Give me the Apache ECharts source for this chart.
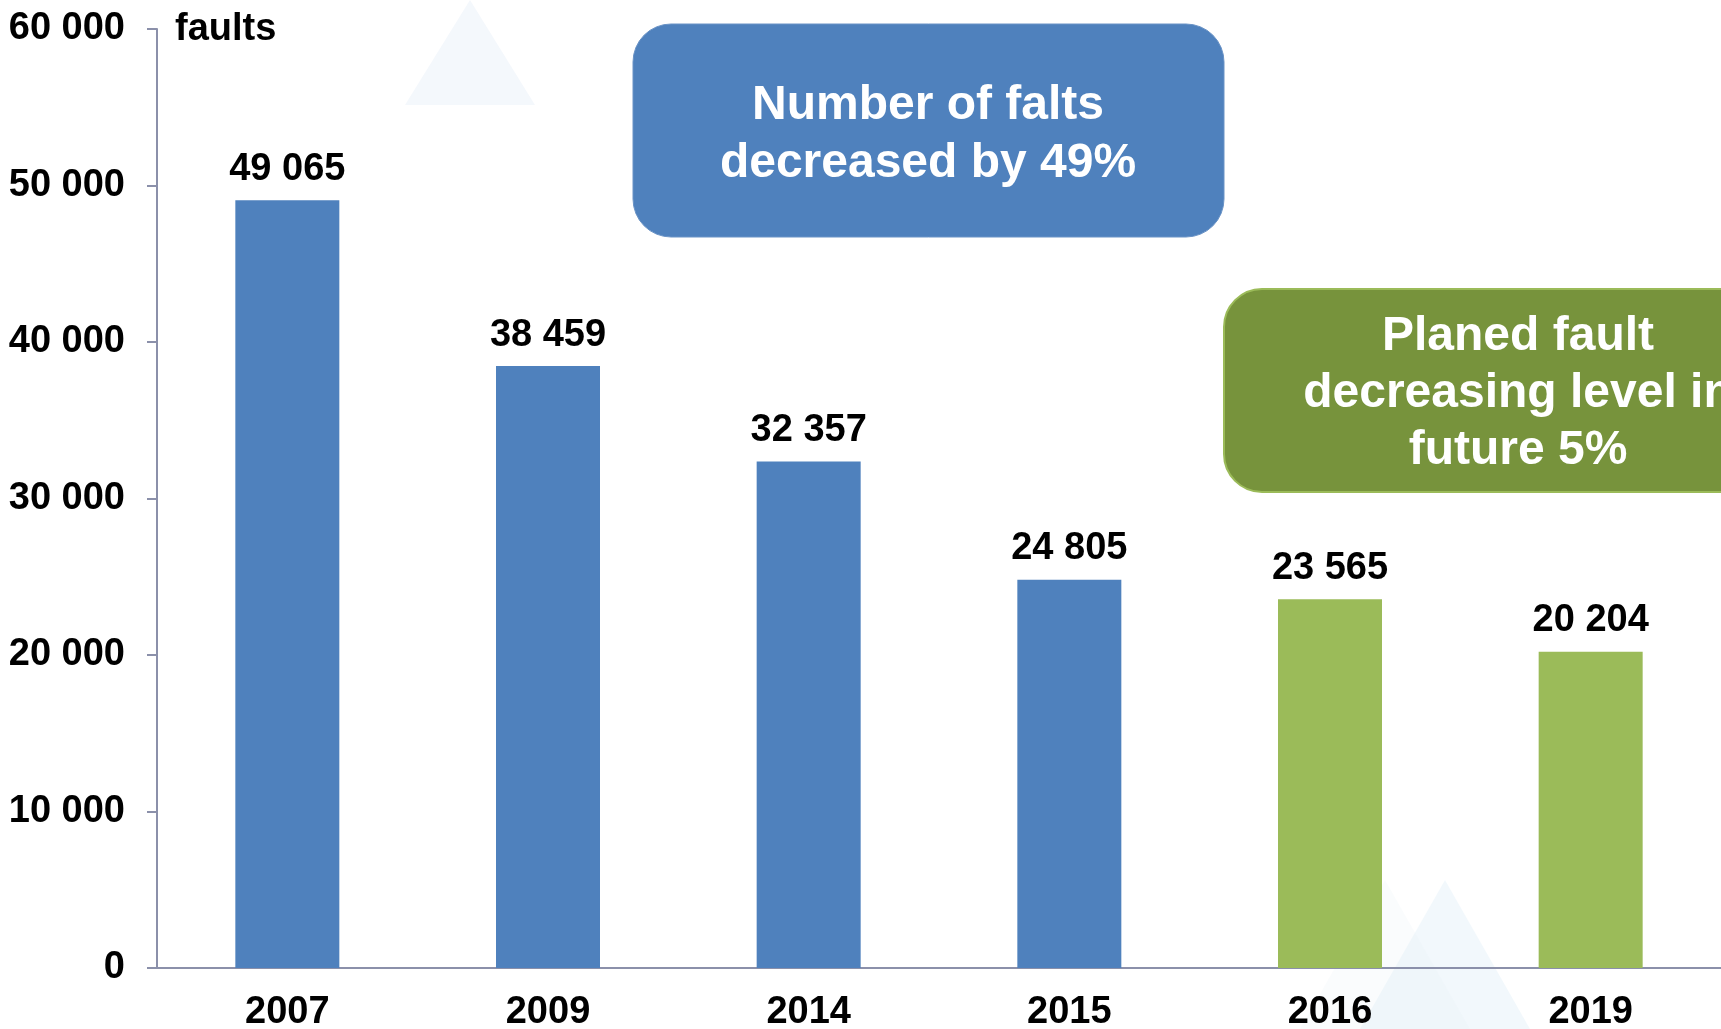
<!DOCTYPE html>
<html>
<head>
<meta charset="utf-8">
<script src="https://cdn.jsdelivr.net/npm/echarts@6/dist/echarts.min.js"></script>
<style>
html,body{margin:0;padding:0;background:#fff;}
#chart{width:1721px;height:1029px;}
</style>
</head>
<body>
<div id="chart"></div>
<script>
const categories = ['2007', '2009', '2014', '2015', '2016', '2019'];
const actualFaults = [49065, 38459, 32357, 24805, null, null];
const plannedFaults = [null, null, null, null, 23565, 20204];
const yTicks = [0, 10000, 20000, 30000, 40000, 50000, 60000];
const unitLabel = 'faults';
const noteActual = 'Number of falts\ndecreased by 49%';
const notePlanned = 'Planed fault\ndecreasing level in\nfuture 5%';

function fmt(v) {
  return String(v).replace(/\B(?=(\d{3})+(?!\d))/g, ' ');
}

const FONT = '"Liberation Sans", Arial, sans-serif';
const chart = echarts.init(document.getElementById('chart'), null, {renderer: 'canvas'});

const labelCfg = {
  show: true,
  position: 'top',
  distance: 12,
  fontFamily: FONT,
  fontWeight: 'bold',
  fontSize: 38,
  color: '#000',
  formatter: p => (p.value == null ? '' : fmt(p.value))
};

function tri(x1, y1, x2, y2, x3, y3, fill) {
  return {
    type: 'polygon', silent: true, z: -10,
    shape: {points: [[x1, y1], [x2, y2], [x3, y3]]},
    style: {fill: fill}
  };
}

chart.setOption({
  animation: false,
  backgroundColor: '#ffffff',
  grid: {left: 157, right: 0, top: 29, bottom: 61, containLabel: false, outerBoundsMode: 'none'},
  xAxis: {
    type: 'category',
    data: categories,
    axisLine: {show: true, lineStyle: {color: '#8b90aa', width: 2}},
    axisTick: {show: false},
    axisLabel: {
      fontFamily: FONT, fontWeight: 'bold', fontSize: 38, color: '#000', margin: 26
    }
  },
  yAxis: {
    type: 'value',
    min: yTicks[0],
    max: yTicks[yTicks.length - 1],
    interval: yTicks[1] - yTicks[0],
    name: unitLabel,
    nameLocation: 'end',
    nameGap: -1,
    nameTextStyle: {
      fontFamily: FONT, fontWeight: 'bold', fontSize: 38, color: '#000',
      align: 'left', verticalAlign: 'middle', padding: [0, 0, 0, 18]
    },
    axisLine: {show: true, lineStyle: {color: '#8b90aa', width: 2}},
    axisTick: {show: true, length: 10, lineStyle: {color: '#8b90aa', width: 2}},
    splitLine: {show: false},
    axisLabel: {
      fontFamily: FONT, fontWeight: 'bold', fontSize: 38, color: '#000', margin: 32,
      formatter: v => fmt(v)
    }
  },
  series: [
    {
      name: 'Faults', type: 'bar', stack: 'f', data: actualFaults, barWidth: 104,
      itemStyle: {color: '#4F81BD'}, label: labelCfg
    },
    {
      name: 'Planned', type: 'bar', stack: 'f', data: plannedFaults, barWidth: 104,
      itemStyle: {color: '#9BBB59'}, label: labelCfg
    }
  ],
  graphic: [
    tri(405, 105, 470, 0, 535, 105, 'rgba(205,222,240,0.22)'),
    tri(1360, 1029, 1445, 880, 1530, 1029, 'rgba(195,222,240,0.22)'),
    tri(1300, 1029, 1385, 880, 1470, 1029, 'rgba(225,238,246,0.18)'),
    {
      type: 'rect', z: 10,
      shape: {x: 633, y: 24, width: 591, height: 213, r: 38},
      style: {fill: '#4F81BD', stroke: '#6a93c6', lineWidth: 1}
    },
    {
      type: 'text', z: 11,
      x: 928, y: 135,
      style: {
        text: noteActual, fill: '#fff', fontFamily: FONT, fontWeight: 'bold',
        fontSize: 48, lineHeight: 58, align: 'center', verticalAlign: 'middle'
      }
    },
    {
      type: 'rect', z: 10,
      shape: {x: 1224, y: 289, width: 620, height: 203, r: 38},
      style: {fill: '#77933C', stroke: '#9BBB59', lineWidth: 2}
    },
    {
      type: 'text', z: 11,
      x: 1518, y: 394,
      style: {
        text: notePlanned, fill: '#fff', fontFamily: FONT, fontWeight: 'bold',
        fontSize: 48, lineHeight: 57, align: 'center', verticalAlign: 'middle'
      }
    }
  ]
});
</script>
</body>
</html>
